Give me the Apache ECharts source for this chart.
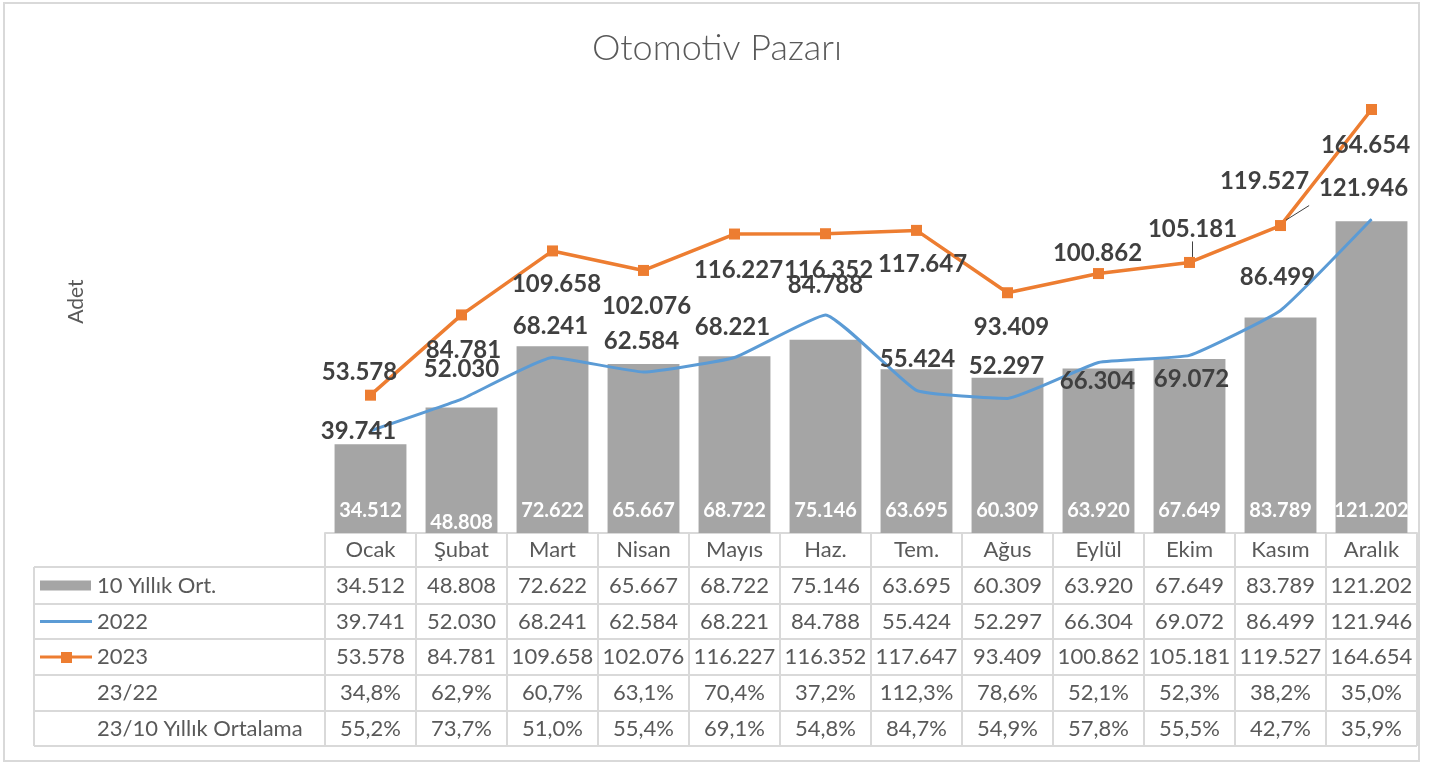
<!DOCTYPE html>
<html>
<head>
<meta charset="utf-8">
<script src="https://cdn.jsdelivr.net/npm/echarts@6/dist/echarts.min.js"></script>
<style>
  html, body { margin: 0; padding: 0; background: #fff; }
  #chart { width: 1434px; height: 764px; }
</style>
</head>
<body>
<div id="chart"></div>
<script>
// Months (table header / category axis)
const months = ["Ocak", "Şubat", "Mart", "Nisan", "Mayıs", "Haz.", "Tem.", "Ağus", "Eylül", "Ekim", "Kasım", "Aralık"]

// Series values
const avg10 = [34512, 48808, 72622, 65667, 68722, 75146, 63695, 60309, 63920, 67649, 83789, 121202]
const sales2022 = [39741, 52030, 68241, 62584, 68221, 84788, 55424, 52297, 66304, 69072, 86499, 121946]
const sales2023 = [53578, 84781, 109658, 102076, 116227, 116352, 117647, 93409, 100862, 105181, 119527, 164654]

// Ratio rows of the data table
const ratio2322 = ["34,8%", "62,9%", "60,7%", "63,1%", "70,4%", "37,2%", "112,3%", "78,6%", "52,1%", "52,3%", "38,2%", "35,0%"]
const ratio2310 = ["55,2%", "73,7%", "51,0%", "55,4%", "69,1%", "54,8%", "84,7%", "54,9%", "57,8%", "55,5%", "42,7%", "35,9%"]

// Row names of the data table
const rowNames = ["10 Yıllık Ort.", "2022", "2023", "23/22", "23/10 Yıllık Ortalama"]

// label nudges (px) for the line labels, as placed in the original
const off2023 = [[-11, -23], [2, 35], [4, 33], [3, 36], [4, 36], [3, 37], [6, 34], [4, 35], [-1, -20], [3, -33], [-16, -44], [-6, 36]]
const off2022 = [[-12, 0], [0, -30], [-2, -31], [-2, -31], [-2, -30], [0, -30], [1, -31], [-1, -32], [-1, 19], [2, 24], [-3, -33], [-8, -31]]

const FONT = "Lato, 'Open Sans', sans-serif"
const GRAY = "#A5A5A5"
const BLUE = "#5B9BD5"
const ORANGE = "#ED7D31"
const TXT = "#595959"
const LINE = "#D9D9D9"

const fmt = (v) => String(v).replace(/\B(?=(\d{3})+(?!\d))/g, ".")

// layout of the plot + table
const gridLeft = 325
const gridRight = 17
const plotTop = 70
const plotBottom = 533
const tableLeft = 34
const tableRight = 1434 - gridRight
const rowEdges = [533, 567, 604, 639, 675, 711, 746]
const colW = (tableRight - gridLeft) / months.length

const chart = echarts.init(document.getElementById("chart"))

// build the data table with graphic elements
const graphics = []

// outer chart border
graphics.push({
  type: "rect",
  shape: { x: 4, y: 3, width: 1415, height: 758 },
  style: { fill: "none", stroke: LINE, lineWidth: 2 },
  silent: true,
})

// horizontal lines
rowEdges.forEach((y, i) => {
  if (i === 0) return
  graphics.push({
    type: "line",
    shape: { x1: tableLeft, y1: y, x2: tableRight, y2: y },
    style: { stroke: LINE, lineWidth: 2 },
    silent: true,
  })
})
// vertical lines
for (let c = 0; c <= months.length; c++) {
  const x = gridLeft + c * colW
  graphics.push({
    type: "line",
    shape: { x1: x, y1: rowEdges[0], x2: x, y2: rowEdges[rowEdges.length - 1] },
    style: { stroke: LINE, lineWidth: 2 },
    silent: true,
  })
}
graphics.push({
  type: "line",
  shape: { x1: tableLeft, y1: rowEdges[1], x2: tableLeft, y2: rowEdges[rowEdges.length - 1] },
  style: { stroke: LINE, lineWidth: 2 },
  silent: true,
})

const rowValues = [avg10.map(fmt), sales2022.map(fmt), sales2023.map(fmt), ratio2322, ratio2310]

rowValues.forEach((vals, r) => {
  const cy = (rowEdges[r + 1] + rowEdges[r + 2]) / 2
  graphics.push({
    type: "text",
    style: {
      text: rowNames[r], x: 97, y: cy, fill: TXT,
      fontSize: 22, fontFamily: FONT, align: "left", verticalAlign: "middle",
    },
    silent: true,
  })
  vals.forEach((v, c) => {
    graphics.push({
      type: "text",
      style: {
        text: v, x: gridLeft + (c + 0.5) * colW, y: cy, fill: TXT,
        fontSize: 22, fontFamily: FONT, align: "center", verticalAlign: "middle",
      },
      silent: true,
    })
  })
})

// legend keys inside the table
const keyY = (r) => (rowEdges[r + 1] + rowEdges[r + 2]) / 2
graphics.push({
  type: "rect",
  shape: { x: 40, y: keyY(0) - 5, width: 51, height: 10 },
  style: { fill: GRAY },
  silent: true,
})
graphics.push({
  type: "line",
  shape: { x1: 40, y1: keyY(1), x2: 92, y2: keyY(1) },
  style: { stroke: BLUE, lineWidth: 3 },
  silent: true,
})
graphics.push({
  type: "line",
  shape: { x1: 40, y1: keyY(2), x2: 92, y2: keyY(2) },
  style: { stroke: ORANGE, lineWidth: 3 },
  silent: true,
})
graphics.push({
  type: "rect",
  shape: { x: 61, y: keyY(2) - 5, width: 11, height: 11 },
  style: { fill: ORANGE },
  silent: true,
})

const option = {
  backgroundColor: "#fff",
  animation: false,
  title: {
    text: "Otomotiv Pazarı",
    left: 712,
    top: 25,
    textAlign: "center",
    textStyle: { fontFamily: FONT, fontSize: 36, fontWeight: 300, color: TXT },
  },
  grid: { left: gridLeft, right: gridRight, top: plotTop, bottom: 764 - plotBottom },
  xAxis: {
    type: "category",
    data: months,
    axisLine: { show: true, lineStyle: { color: LINE, width: 2 } },
    axisTick: { show: false },
    axisLabel: { color: TXT, fontSize: 22, fontFamily: FONT, margin: 6 },
  },
  yAxis: {
    type: "value",
    min: 0,
    max: 180000,
    name: "Adet",
    nameLocation: "middle",
    nameGap: 238,
    nameRotate: 90,
    nameTextStyle: { color: TXT, fontSize: 21, fontFamily: FONT },
    axisLine: { show: false },
    axisTick: { show: false },
    axisLabel: { show: false },
    splitLine: { show: false },
  },
  series: [
    {
      name: "10 Yıllık Ort.",
      type: "bar",
      data: avg10.map((v, i) => ({
        value: v,
        label: i === 1 ? { offset: [0, 12] } : undefined,
      })),
      barCategoryGap: "21%",
      itemStyle: { color: GRAY },
      label: {
        show: true,
        position: "insideBottom",
        distance: 12,
        color: "#fff",
        fontSize: 20,
        fontWeight: "bold",
        fontFamily: FONT,
        formatter: (p) => fmt(p.value),
      },
      z: 1,
    },
    {
      name: "2022",
      type: "line",
      smooth: 0.12,
      symbol: "circle",
      symbolSize: 1,
      data: sales2022.map((v, i) => ({ value: v, label: { offset: off2022[i] } })),
      lineStyle: { color: BLUE, width: 3 },
      itemStyle: { color: BLUE },
      label: {
        show: true,
        position: "inside",
        color: "#404040",
        fontSize: 24,
        fontWeight: "bold",
        fontFamily: FONT,
        formatter: (p) => fmt(p.value),
      },
      z: 3,
    },
    {
      name: "2023",
      type: "line",
      symbol: "rect",
      symbolSize: 11,
      data: sales2023.map((v, i) => ({
        value: v,
        label: { offset: off2023[i] },
        labelLine: i === 9 || i === 10 ? { show: true, lineStyle: { color: "#404040", width: 1 } } : undefined,
      })),
      lineStyle: { color: ORANGE, width: 3.5 },
      itemStyle: { color: ORANGE },
      label: {
        show: true,
        position: "inside",
        color: "#404040",
        fontSize: 24,
        fontWeight: "bold",
        fontFamily: FONT,
        formatter: (p) => fmt(p.value),
      },
      z: 4,
    },
  ],
  graphic: graphics,
}

chart.setOption(option)
</script>
</body>
</html>
